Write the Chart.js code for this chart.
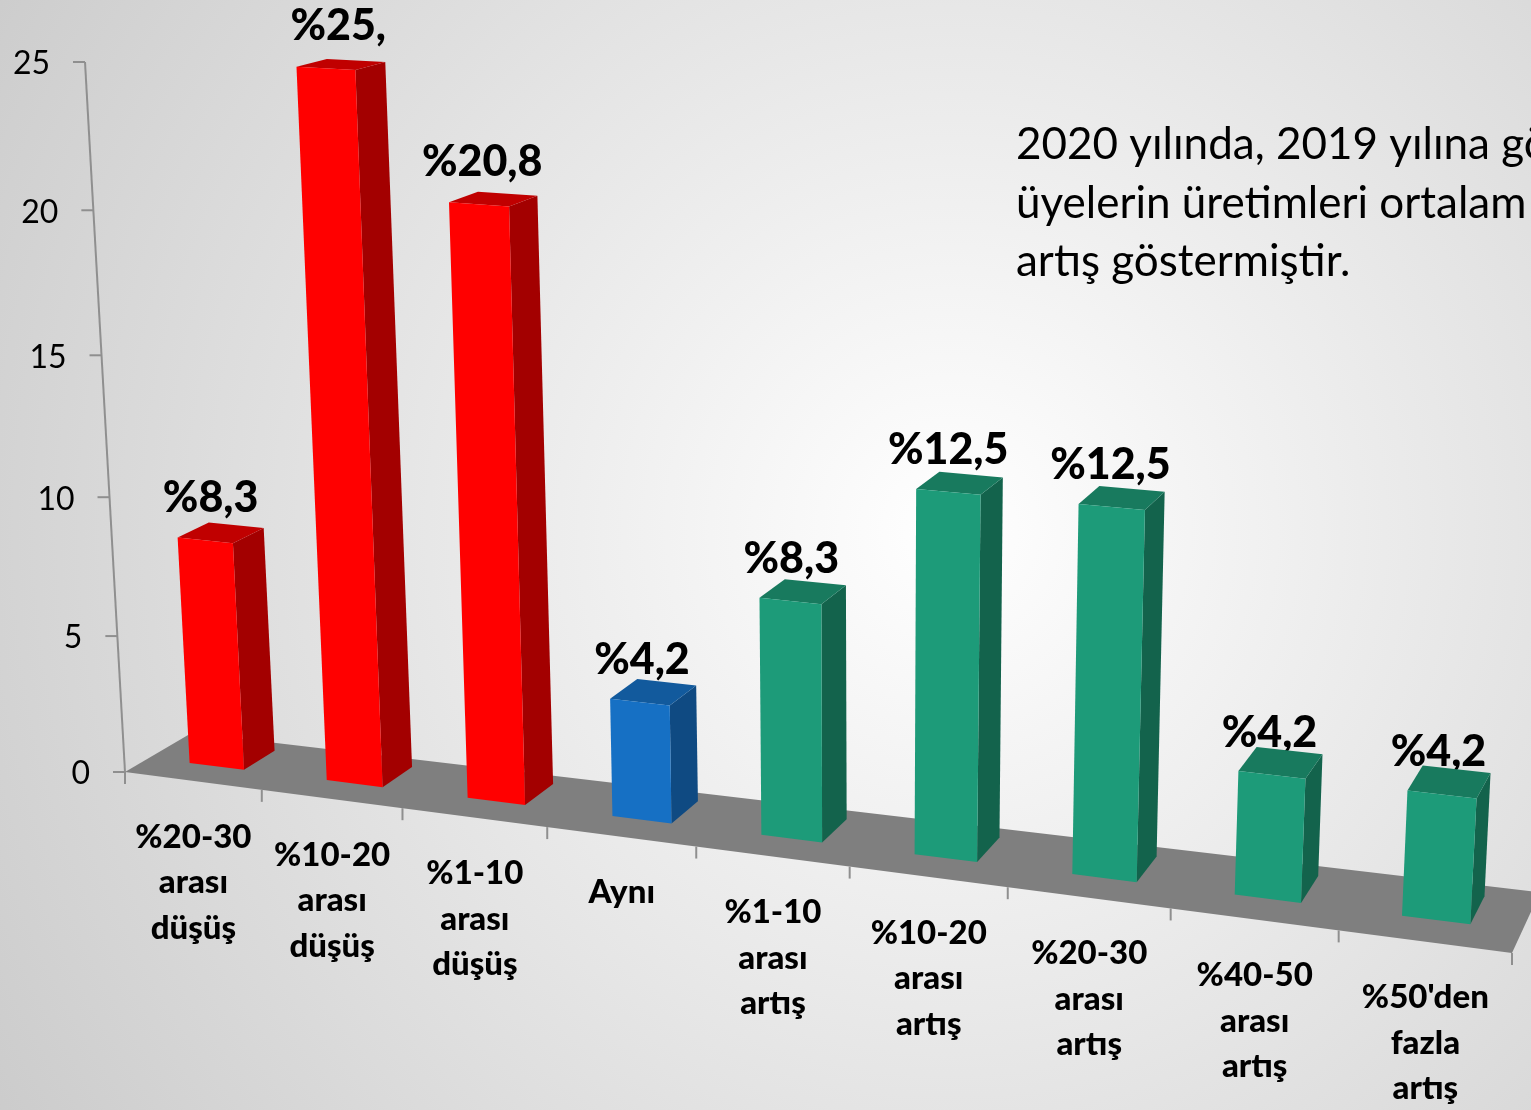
<!DOCTYPE html>
<html>
<head>
<meta charset="utf-8">
<title>Üretim değişimi</title>
<script src="https://cdn.jsdelivr.net/npm/chart.js@4"></script>
<style>
  html, body { margin: 0; padding: 0; overflow: hidden; }
  body {
    width: 1531px; height: 1110px;
    background: radial-gradient(circle 1130px at 950px 530px, #ffffff 0%, #cbcbcb 100%);
  }
  canvas { display: block; }
</style>
</head>
<body>
<canvas id="chart" width="1531" height="1110"></canvas>
<script>
const categories = [
  ["%20-30", "arası", "düşüş"],
  ["%10-20", "arası", "düşüş"],
  ["%1-10", "arası", "düşüş"],
  ["Aynı"],
  ["%1-10", "arası", "artış"],
  ["%10-20", "arası", "artış"],
  ["%20-30", "arası", "artış"],
  ["%40-50", "arası", "artış"],
  ["%50'den", "fazla", "artış"]
];
const values = [8.3, 25, 20.8, 4.2, 8.3, 12.5, 12.5, 4.2, 4.2];
const valueLabels = ["%8,3", "%25,", "%20,8", "%4,2", "%8,3", "%12,5", "%12,5", "%4,2", "%4,2"];
const directions = ["down", "down", "down", "same", "up", "up", "up", "up", "up"];
const noteLines = [
  "2020 yılında, 2019 yılına gö",
  "üyelerin üretimleri ortalam",
  "artış göstermiştir."
];

// front, top, side colour of each kind of bar
const shades = {
  down: ["#ff0000", "#c00000", "#a30000"],
  same: ["#1670c4", "#125a9d", "#0f4a82"],
  up: ["#1d9b79", "#187a5e", "#13634c"]
};

// perspective: the flat chart area is mapped on this quad (old 3d office chart)
const quad = [[125, 772], [1512, 953], [1555, 147], [85, 62]];
const vanish = [2140, -410];
const barFront = 0.012, barBack = 0.0275, floorBack = 0.033;
const font = "Lato, Carlito, sans-serif";

function makeHomography(q) {
  const [[x0, y0], [x1, y1], [x2, y2], [x3, y3]] = q;
  const dx1 = x1 - x2, dx2 = x3 - x2, sx = x0 - x1 + x2 - x3;
  const dy1 = y1 - y2, dy2 = y3 - y2, sy = y0 - y1 + y2 - y3;
  const den = dx1 * dy2 - dx2 * dy1;
  const g = (sx * dy2 - dx2 * sy) / den;
  const h = (dx1 * sy - sx * dy1) / den;
  const a = x1 - x0 + g * x1, b = x3 - x0 + h * x3;
  const d = y1 - y0 + g * y1, e = y3 - y0 + h * y3;
  return (u, v) => {
    const w = g * u + h * v + 1;
    return [(a * u + b * v + x0) / w, (d * u + e * v + y0) / w];
  };
}
const front = makeHomography(quad);

// u, v are 0..1 across the chart area, depth pulls the point to the vanishing point
function project(u, v, depth) {
  const p = front(u, v);
  const k = (depth || 0) * (1 + 0.35 * u);
  return [p[0] + k * (vanish[0] - p[0]), p[1] + k * (vanish[1] - p[1])];
}

function poly(ctx, pts, color) {
  ctx.beginPath();
  pts.forEach((p, i) => (i ? ctx.lineTo(p[0], p[1]) : ctx.moveTo(p[0], p[1])));
  ctx.closePath();
  ctx.fillStyle = color;
  ctx.fill();
}

function line(ctx, a, b) {
  ctx.beginPath();
  ctx.moveTo(a[0], a[1]);
  ctx.lineTo(b[0], b[1]);
  ctx.stroke();
}

const perspective = {
  id: "perspective",
  beforeDatasetsDraw(chart) {
    const { ctx, chartArea: area, scales } = chart;
    const toU = px => (px - area.left) / (area.right - area.left);
    const toV = py => (area.bottom - py) / (area.bottom - area.top);
    ctx.save();

    // floor
    poly(ctx, [project(0, 0), project(1, 0), project(1, 0, floorBack), project(0, 0, floorBack)], "#7f7f7f");

    // value axis
    ctx.strokeStyle = "#8f8f8f";
    ctx.lineWidth = 2;
    line(ctx, project(0, 0), project(0, 1));
    ctx.fillStyle = "#000";
    ctx.font = "32px " + font;
    ctx.textAlign = "right";
    ctx.textBaseline = "middle";
    scales.y.ticks.forEach(t => {
      const p = project(0, toV(scales.y.getPixelForValue(t.value)));
      line(ctx, p, [p[0] - 12, p[1]]);
      ctx.fillText(t.value, p[0] - 35, p[1] + 2);
    });

    // category axis
    const step = scales.x.getPixelForValue(1) - scales.x.getPixelForValue(0);
    const edge = i => toU(scales.x.getPixelForValue(i) - step / 2);
    categories.forEach((c, i) => {
      const p = project(edge(i), 0);
      line(ctx, p, [p[0], p[1] + 12]);
      if (i === categories.length - 1) {
        const q = project(edge(i + 1), 0);
        line(ctx, q, [q[0], q[1] + 12]);
      }
    });
    ctx.fillStyle = "#000";
    ctx.font = "900 33px " + font;
    ctx.textAlign = "center";
    categories.forEach((c, i) => {
      const a = project(edge(i), 0), b = project(edge(i + 1), 0);
      const x = (a[0] + b[0]) / 2, y = (a[1] + b[1]) / 2 + 56;
      c.forEach((txt, n) => ctx.fillText(txt, x, y + n * 45.5));
    });

    // note
    ctx.font = "44px " + font;
    ctx.textAlign = "left";
    ctx.textBaseline = "alphabetic";
    noteLines.forEach((txt, n) => ctx.fillText(txt, 1016, 159 + n * 58.5));

    const meta = chart.getDatasetMeta(0);

    // value labels go under the bars, the tops cover the commas in the original
    ctx.font = "900 43px " + font;
    ctx.textAlign = "center";
    ctx.textBaseline = "middle";
    meta.data.forEach((bar, i) => {
      const u = toU(bar.x), v = toV(bar.y);
      const p = project(u, v, barFront);
      // the cut off label still sits where its full text was centred
      const cut = valueLabels[i].endsWith(",") ? 8 : 0;
      ctx.fillText(valueLabels[i], p[0] + 10 * (1 - u) - 4 + cut, p[1] - 42);
    });

    // bars
    meta.data.forEach((bar, i) => {
      const l = toU(bar.x - bar.width / 2), r = toU(bar.x + bar.width / 2);
      const top = toV(bar.y), base = toV(bar.base);
      const [face, roof, side] = shades[directions[i]];
      poly(ctx, [project(r, base, barFront), project(r, base, barBack), project(r, top, barBack), project(r, top, barFront)], side);
      poly(ctx, [project(l, top, barFront), project(r, top, barFront), project(r, top, barBack), project(l, top, barBack)], roof);
      poly(ctx, [project(l, base, barFront), project(r, base, barFront), project(r, top, barFront), project(l, top, barFront)], face);
    });

    ctx.restore();
    return false;
  }
};

new Chart(document.getElementById("chart"), {
  type: "bar",
  data: {
    labels: categories,
    datasets: [{
      label: "Üyeler (%)",
      data: values,
      backgroundColor: directions.map(d => shades[d][0]),
      barPercentage: 0.4,
      categoryPercentage: 1
    }]
  },
  options: {
    responsive: false,
    animation: false,
    layout: { padding: 0 },
    plugins: { legend: { display: false }, tooltip: { enabled: false } },
    scales: {
      x: { display: false },
      y: { display: false, min: 0, max: 25, ticks: { stepSize: 5 } }
    }
  },
  plugins: [perspective]
});
</script>
</body>
</html>
